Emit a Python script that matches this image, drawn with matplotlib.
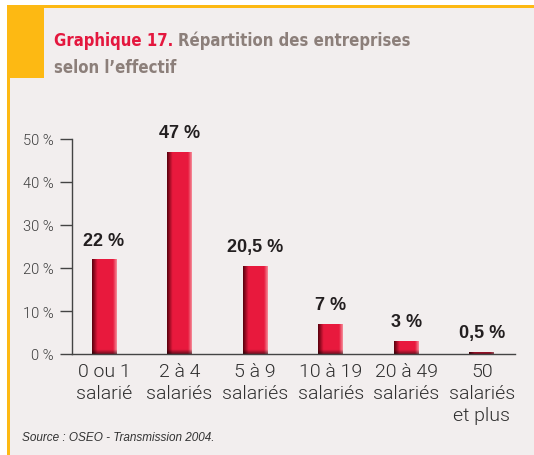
#!/usr/bin/env python3
from matplotlib import pyplot as plt
from matplotlib import font_manager
from matplotlib.patches import Rectangle
import numpy as np

categories = ["0 ou 1\nsalarié", "2 à 4\nsalariés", "5 à 9\nsalariés",
              "10 à 19\nsalariés", "20 à 49\nsalariés", "50\nsalariés\net plus"]
values = [22, 47, 20.5, 7, 3, 0.5]
value_labels = ["22 %", "47 %", "20,5 %", "7 %", "3 %", "0,5 %"]
yticks = [0, 10, 20, 30, 40, 50]
ytick_labels = ["0 %", "10 %", "20 %", "30 %", "40 %", "50 %"]

W, H = 534, 456
BG = "#F2EEEE"
ORANGE = "#FDB913"
RED = "#E8193C"

# pick a condensed bold face for the title if one is installed
fonts = font_manager.fontManager.ttflist
title_font = dict(family="Liberation Sans", fontsize=11.5)
for f in fonts:
    if f.name == "Liberation Sans Narrow":
        title_font = dict(family="Liberation Sans Narrow", fontsize=13.4)
        break
    if f.name == "DejaVu Sans" and f.stretch == "condensed":
        title_font = dict(family="DejaVu Sans", stretch="condensed", fontsize=12)

fig = plt.figure(figsize=(W / 100, H / 100), dpi=100, facecolor="white")


def rect_px(x0, y0, x1, y1, color):
    # pixel box measured from the top-left corner
    r = Rectangle((x0 / W, 1 - y1 / H), (x1 - x0) / W, (y1 - y0) / H,
                  transform=fig.transFigure, fc=color, ec="none", zorder=0)
    fig.add_artist(r)


rect_px(7, 6, W, H, ORANGE)
rect_px(10, 9, W, H, BG)
rect_px(7, 6, 44, 79, ORANGE)

ax = fig.add_axes([72 / W, 1 - 355 / H, (515 - 72) / W, (355 - 140) / H])
ax.set_facecolor("none")

x = np.arange(len(values))
bars = ax.bar(x, values, width=0.33, color=RED, zorder=2)

# gradient shading on each bar (dark left edge, pale right edge, dark base)
cols = np.linspace(0, 1, 60)
dark = np.array([0.35, 0.0, 0.05])
base = np.array([0.91, 0.10, 0.24])
pale = np.array([0.96, 0.55, 0.60])
prof = np.zeros((60, 3))
for i, c in enumerate(cols):
    if c < 0.22:
        t = c / 0.22
        prof[i] = dark * (1 - t) + base * t
    elif c > 0.85:
        t = (c - 0.85) / 0.15
        prof[i] = base * (1 - t) + pale * t
    else:
        prof[i] = base
for b in bars:
    bx, bw, bh = b.get_x(), b.get_width(), b.get_height()
    rows = np.linspace(bh, 0, 200)
    img = np.repeat(prof[None, :, :], 200, axis=0)
    shade = np.clip(0.5 + rows / 2.0, 0.5, 1.0)[:, None, None]
    img = img * shade
    im = ax.imshow(img, extent=[bx, bx + bw, 0, bh], aspect="auto",
                   zorder=3, interpolation="bilinear")
    im.set_clip_path(b)

for xi, v, lab in zip(x, values, value_labels):
    ax.text(xi, v + 3.4, lab, ha="center", va="baseline", fontsize=13,
            fontweight="bold", family="Liberation Sans", color="#231F20")

ax.set_xlim(-0.424, 5.44)
ax.set_ylim(0, 50)
ax.set_yticks(yticks)
ax.set_yticklabels(ytick_labels, fontsize=10.5, family="Roboto",
                   fontweight=300, color="#3C3C3C")
ax.set_xticks(x)
ax.set_xticklabels(categories, fontsize=14, family="Roboto", fontweight=300,
                   color="#2E2E2E", linespacing=1.28)
ax.tick_params(axis="y", length=9, width=1, color="#444444", pad=4)
ax.tick_params(axis="x", length=0, pad=6)
for s in ["top", "right"]:
    ax.spines[s].set_visible(False)
for s in ["left", "bottom"]:
    ax.spines[s].set_color("#444444")
    ax.spines[s].set_linewidth(1)
    ax.spines[s].set_zorder(4)

# title in two colours
t1 = fig.text(54 / W, 1 - 46 / H, "Graphique 17.", fontweight="bold",
              color="#E4173E", va="baseline", **title_font)
fig.canvas.draw()
bb = t1.get_window_extent()
fig.text((bb.x1 + 5) / W, 1 - 46 / H, "Répartition des entreprises",
         fontweight="bold", color="#8C7F7A", va="baseline", **title_font)
fig.text(54 / W, 1 - 73 / H, "selon l\u2019effectif", fontweight="bold",
         color="#8C7F7A", va="baseline", **title_font)

fig.text(22 / W, 1 - 441 / H, "Source : OSEO - Transmission 2004.",
         fontsize=8.5, style="italic", family="Liberation Sans",
         color="#333333", va="baseline")

fig.savefig("out.png", dpi=100, facecolor="white")
